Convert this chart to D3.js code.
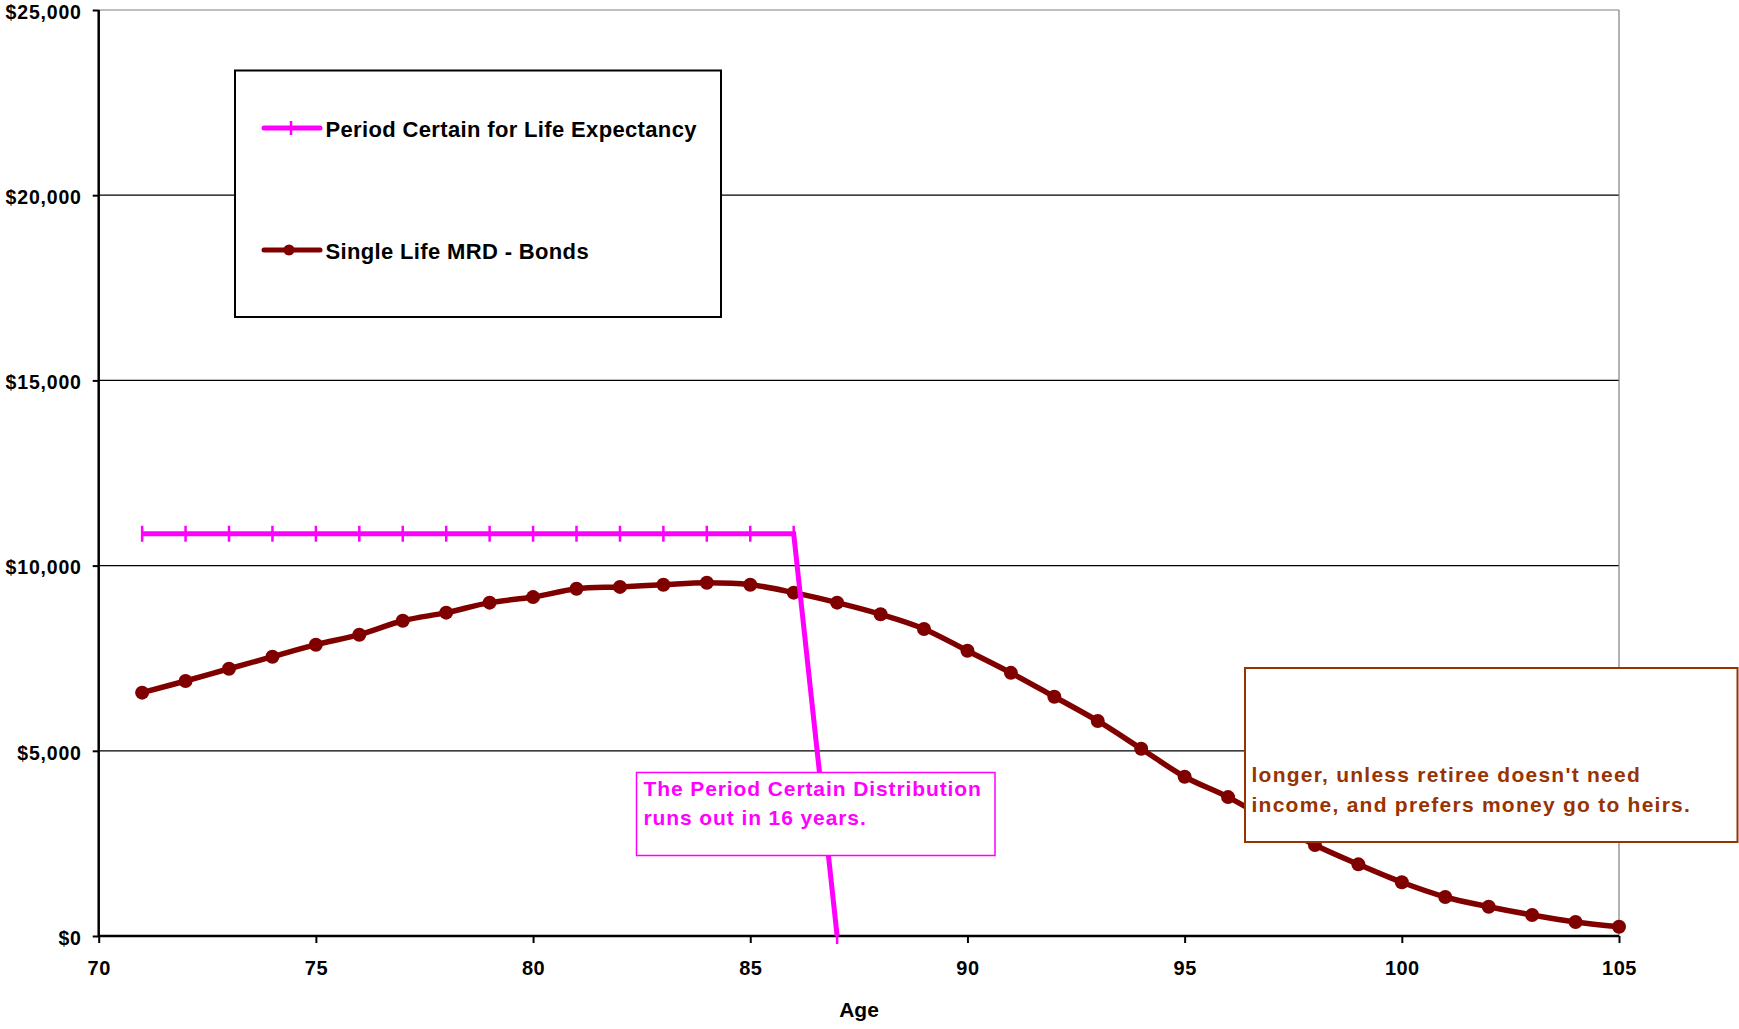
<!DOCTYPE html>
<html>
<head>
<meta charset="utf-8">
<script src="https://cdn.jsdelivr.net/npm/d3@7/dist/d3.min.js"></script>
<style>
  html, body { margin: 0; padding: 0; background: #fff; }
  svg { display: block; font-family: "Liberation Sans", Arial, sans-serif; font-weight: bold; }
</style>
</head>
<body>
<svg id="chart" width="1739" height="1029"></svg>
<script>
// ---- data ----
const xTicks = [70, 75, 80, 85, 90, 95, 100, 105];
const yTicks = [0, 5000, 10000, 15000, 20000, 25000];

const periodAges   = [71, 72, 73, 74, 75, 76, 77, 78, 79, 80, 81, 82, 83, 84, 85, 86, 87];
const periodValues = [10860, 10860, 10860, 10860, 10860, 10860, 10860, 10860, 10860, 10860, 10860, 10860, 10860, 10860, 10860, 10860, 0];

const mrdAges   = [71, 72, 73, 74, 75, 76, 77, 78, 79, 80, 81, 82, 83, 84, 85, 86, 87, 88,
                   89, 90, 91, 92, 93, 94, 95, 96, 97, 98, 99, 100, 101, 102, 103, 104, 105];
const mrdValues = [6570, 6885, 7215, 7540, 7865, 8135, 8510, 8730, 9000, 9150, 9375, 9425, 9485, 9535, 9485, 9270, 9000, 8685,
                   8290, 7700, 7105, 6460, 5805, 5055, 4300, 3750, 3090, 2457, 1935, 1450, 1053, 790, 567, 378, 250];

const seriesNames = ["Period Certain for Life Expectancy", "Single Life MRD - Bonds"];
const xTitle = "Age";
const noteMagenta = ["The Period Certain Distribution", "runs out in 16 years."];
const noteBrown = ["longer, unless retiree doesn't need", "income, and prefers money go to heirs."];

// ---- layout ----
const svg = d3.select("#chart");
const L = 98.7, R = 1619, T = 10, B = 936;
const magenta = "#FF00FF", maroon = "#800000", brown = "#993300";

const x = d3.scaleLinear().domain([70, 105]).range([L, R]);
const y = d3.scaleLinear().domain([0, 25000]).range([B, T]);

// gridlines
svg.append("g").selectAll("line").data(yTicks.filter(v => v > 0 && v < 25000)).join("line")
  .attr("x1", L).attr("x2", R).attr("y1", d => y(d)).attr("y2", d => y(d))
  .attr("stroke", "#000").attr("stroke-width", 1.2);
// plot border (top and right) grey
svg.append("line").attr("x1", L).attr("x2", R).attr("y1", y(25000)).attr("y2", y(25000))
  .attr("stroke", "#808080").attr("stroke-width", 1.2);
svg.append("line").attr("x1", R).attr("x2", R).attr("y1", T).attr("y2", B)
  .attr("stroke", "#808080").attr("stroke-width", 1.2);

// axes
const yAxis = d3.axisLeft(y).tickValues(yTicks).tickSize(6).tickPadding(11)
  .tickFormat(d => "$" + d3.format(",")(d));
const gy = svg.append("g").attr("transform", `translate(${L},0)`).call(yAxis);
gy.select(".domain").attr("stroke-width", 2.5).attr("d", `M0,${T}V${B}`);
gy.selectAll(".tick line").attr("stroke-width", 2);
gy.selectAll(".tick text").attr("font-size", 19.5).attr("font-weight", "bold")
  .attr("letter-spacing", 0.8).attr("dy", "0.42em").attr("fill", "#000")
  .attr("font-family", "Liberation Sans, Arial, sans-serif");

const xAxis = d3.axisBottom(x).tickValues(xTicks).tickSize(7).tickPadding(18);
const gx = svg.append("g").attr("transform", `translate(0,${B})`).call(xAxis);
gx.select(".domain").attr("stroke-width", 2.5).attr("d", `M${L},0H${R}`);
gx.selectAll(".tick line").attr("stroke-width", 2);
gx.selectAll(".tick text").attr("font-size", 20).attr("font-weight", "bold")
  .attr("letter-spacing", 0.5).attr("fill", "#000")
  .attr("font-family", "Liberation Sans, Arial, sans-serif");

svg.append("text").attr("x", 859).attr("y", 1017).attr("text-anchor", "middle")
  .attr("font-size", 21).text(xTitle);

// series: MRD (smoothed)
const mrd = mrdAges.map((a, i) => [a, mrdValues[i]]);
svg.append("path").datum(mrd)
  .attr("d", d3.line().x(d => x(d[0])).y(d => y(d[1])).curve(d3.curveCatmullRom.alpha(0)))
  .attr("fill", "none").attr("stroke", maroon).attr("stroke-width", 5.5);
svg.append("g").selectAll("circle").data(mrd).join("circle")
  .attr("cx", d => x(d[0])).attr("cy", d => y(d[1])).attr("r", 7).attr("fill", maroon);

// series: period certain (straight)
const pc = periodAges.map((a, i) => [a, periodValues[i]]);
svg.append("path").datum(pc)
  .attr("d", d3.line().x(d => x(d[0])).y(d => y(d[1])))
  .attr("fill", "none").attr("stroke", magenta).attr("stroke-width", 5);
svg.append("g").selectAll("line").data(pc).join("line")
  .attr("x1", d => x(d[0])).attr("x2", d => x(d[0]))
  .attr("y1", d => y(d[1]) - 8).attr("y2", d => y(d[1]) + 8)
  .attr("stroke", magenta).attr("stroke-width", 2.5);

// annotation boxes
function note(x0, y0, w, h, color, sw, lines, tx, ty, lh, ls) {
  svg.append("rect").attr("x", x0).attr("y", y0).attr("width", w).attr("height", h)
    .attr("fill", "#fff").attr("stroke", color).attr("stroke-width", sw);
  const t = svg.append("text").attr("fill", color).attr("font-size", 21).attr("letter-spacing", ls);
  lines.forEach((s, i) => t.append("tspan").attr("x", tx).attr("y", ty + i * lh).text(s));
}
note(636.5, 772.5, 358.5, 83, magenta, 1.5, noteMagenta, 643.5, 796, 29, 0.9);
note(1245, 668, 492.5, 174, brown, 2, noteBrown, 1251.5, 782, 30, 1.25);

// legend
const lg = svg.append("g");
lg.append("rect").attr("x", 235).attr("y", 70.5).attr("width", 486).attr("height", 246.5)
  .attr("fill", "#fff").attr("stroke", "#000").attr("stroke-width", 2);
const ly = [128, 250];
// entry 1
lg.append("line").attr("x1", 264).attr("x2", 320).attr("y1", ly[0]).attr("y2", ly[0])
  .attr("stroke", magenta).attr("stroke-width", 5).attr("stroke-linecap", "round");
lg.append("line").attr("x1", 291).attr("x2", 291).attr("y1", ly[0] - 7).attr("y2", ly[0] + 7)
  .attr("stroke", magenta).attr("stroke-width", 2.5);
// entry 2
lg.append("line").attr("x1", 264).attr("x2", 320).attr("y1", ly[1]).attr("y2", ly[1])
  .attr("stroke", maroon).attr("stroke-width", 5).attr("stroke-linecap", "round");
lg.append("circle").attr("cx", 289).attr("cy", ly[1]).attr("r", 5.5).attr("fill", maroon);
seriesNames.forEach((s, i) => {
  lg.append("text").attr("x", 325.5).attr("y", ly[i] + 8.5).attr("font-size", 22)
    .attr("letter-spacing", 0.35).attr("fill", "#000").text(s);
});
</script>
</body>
</html>
